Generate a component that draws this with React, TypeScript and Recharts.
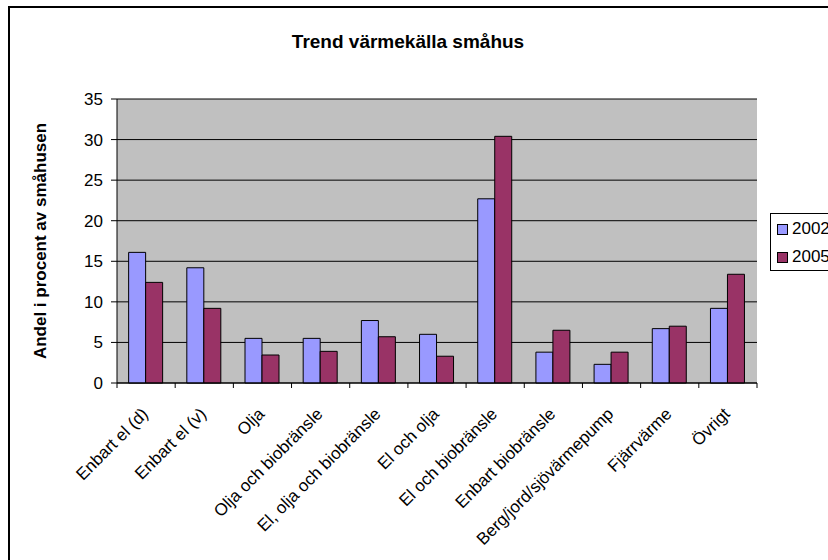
import { BarChart, Bar, XAxis, YAxis, CartesianGrid } from 'recharts'

const categories = [
  'Enbart el (d)',
  'Enbart el (v)',
  'Olja',
  'Olja och biobränsle',
  'El, olja och biobränsle',
  'El och olja',
  'El och biobränsle',
  'Enbart biobränsle',
  'Berg/jord/sjövärmepump',
  'Fjärrvärme',
  'Övrigt',
]
const values2002 = [16.1, 14.2, 5.5, 5.5, 7.7, 6.0, 22.7, 3.8, 2.3, 6.7, 9.2]
const values2005 = [12.4, 9.2, 3.45, 3.9, 5.7, 3.3, 30.4, 6.5, 3.8, 7.0, 13.4]
const yTicks = [0, 5, 10, 15, 20, 25, 30, 35]
const series = [
  { key: 'y2002', name: '2002', color: '#9999FF' },
  { key: 'y2005', name: '2005', color: '#993366' },
]

const data = categories.map((name, i) => ({ name, y2002: values2002[i], y2005: values2005[i] }))

const font = '"Liberation Sans", Arial, sans-serif'
const PLOT_LEFT = 117
const PLOT_RIGHT = 757
const band = (PLOT_RIGHT - PLOT_LEFT) / categories.length

function CategoryTick(props: any) {
  const { x, y, payload, index } = props
  const left = x - band / 2
  const ax = x + 3
  const ay = y + 32
  return (
    <g>
      <line x1={left} y1={y} x2={left} y2={y + 5} stroke="#000" />
      {index === categories.length - 1 && (
        <line x1={x + band / 2} y1={y} x2={x + band / 2} y2={y + 5} stroke="#000" />
      )}
      <text
        x={ax}
        y={ay}
        textAnchor="end"
        fontSize={17}
        fontFamily={font}
        fill="#000"
        transform={`rotate(-45 ${ax} ${ay})`}
      >
        {payload.value}
      </text>
    </g>
  )
}

export default function App() {
  return (
    <div style={{ position: 'absolute', left: 0, top: 0, width: 828, height: 560, overflow: 'hidden', background: '#fff', fontFamily: font }}>
      <div style={{ position: 'absolute', left: 8, top: 6, width: 860, height: 600, border: '2px solid #000' }} />
      <div style={{ position: 'absolute', left: 0, top: 31, width: 816, textAlign: 'center', fontWeight: 'bold', fontSize: 19 }}>
        Trend värmekälla småhus
      </div>
      <div style={{ position: 'absolute', left: 0, top: 0 }}>
        <BarChart
          width={828}
          height={560}
          data={data}
          margin={{ top: 99, right: 828 - PLOT_RIGHT, bottom: 7, left: 7 }}
          barCategoryGap="20%"
          barGap={0}
        >
          <CartesianGrid vertical={false} stroke="#000" fill="#C0C0C0" fillOpacity={1} />
          <XAxis
            dataKey="name"
            height={170}
            interval={0}
            tickLine={false}
            tickSize={0}
            tickMargin={0}
            axisLine={{ stroke: '#000' }}
            tick={<CategoryTick />}
          />
          <YAxis
            width={PLOT_LEFT - 7}
            domain={[0, 35]}
            ticks={yTicks}
            interval={0}
            tickSize={6}
            tickMargin={8}
            axisLine={{ stroke: '#000' }}
            tickLine={{ stroke: '#000' }}
            tick={{ fill: '#000', fontSize: 17, fontFamily: font }}
            label={{
              value: 'Andel i procent av småhusen',
              angle: -90,
              position: 'insideLeft',
              offset: 33,
              style: { textAnchor: 'middle', fontWeight: 'bold', fontSize: 17, fill: '#000', fontFamily: font },
            }}
          />
          <YAxis
            yAxisId="right"
            orientation="right"
            width={0}
            domain={[0, 35]}
            tick={false}
            tickLine={false}
            axisLine={{ stroke: '#808080' }}
          />
          {series.map((s) => (
            <Bar
              key={s.key}
              dataKey={s.key}
              name={s.name}
              fill={s.color}
              stroke="#000"
              strokeWidth={1}
              isAnimationActive={false}
            />
          ))}
        </BarChart>
      </div>
      <div
        style={{
          position: 'absolute',
          left: 770,
          top: 213,
          width: 90,
          height: 56,
          border: '1px solid #000',
          background: '#fff',
          fontSize: 17,
        }}
      >
        {series.map((s, i) => (
          <div key={s.key} style={{ position: 'absolute', left: 6, top: 5 + i * 28, display: 'flex', alignItems: 'center' }}>
            <span style={{ display: 'inline-block', width: 9, height: 9, background: s.color, border: '1px solid #000', marginRight: 4 }} />
            <span>{s.name}</span>
          </div>
        ))}
      </div>
    </div>
  )
}
